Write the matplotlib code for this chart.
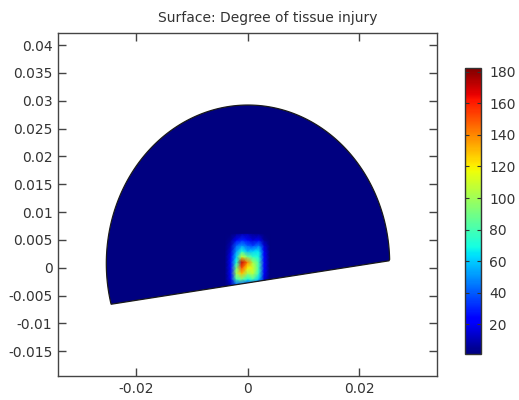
import numpy as np
import matplotlib
matplotlib.use("Agg")
import matplotlib.pyplot as plt
from matplotlib.patches import Polygon
from matplotlib.colors import Normalize
from matplotlib.cm import ScalarMappable

# ---------------- data ----------------
title = "Surface: Degree of tissue injury"
x_ticks = [-0.02, 0.0, 0.02]
x_ticklabels = ["-0.02", "0", "0.02"]
y_ticks = [-0.015, -0.01, -0.005, 0.0, 0.005, 0.01, 0.015, 0.02, 0.025, 0.03, 0.035, 0.04]
y_ticklabels = ["-0.015", "-0.01", "-0.005", "0", "0.005", "0.01", "0.015",
                "0.02", "0.025", "0.03", "0.035", "0.04"]
cbar_ticks = [20, 40, 60, 80, 100, 120, 140, 160, 180]
value_min = 1.0
value_max = 182.5

# domain geometry (elliptic arc closed by a straight chord), metres
dom_center = (0.00009, 0.00075)
dom_semi_x = 0.02542
dom_semi_y = 0.02847
chord_left = (-0.02447, -0.00656)
chord_right = (0.02537, 0.00124)

# injury field samples around the heated spot (mm grid, values)
spot_x_mm = [-4, -3, -2, -1, 0, 1, 2, 3, 4]
spot_y_mm = [-3, -2, -1, 0, 1, 2, 3, 4, 5, 6]
spot_values = [
    [0, 10, 40, 40, 30, 40, 30, 5, 0],
    [0, 20, 80, 90, 70, 80, 60, 15, 0],
    [0, 25, 100, 130, 100, 105, 75, 20, 0],
    [0, 25, 90, 150, 120, 110, 80, 25, 0],
    [0, 25, 70, 170, 140, 100, 80, 25, 0],
    [0, 20, 60, 110, 90, 75, 70, 25, 0],
    [0, 15, 50, 70, 55, 60, 65, 20, 0],
    [0, 10, 40, 50, 40, 35, 45, 15, 0],
    [0, 5, 20, 30, 25, 15, 20, 5, 0],
    [0, 0, 5, 10, 10, 5, 5, 0, 0],
]

# ---------------- figure ----------------
W, H = 519, 400
fig = plt.figure(figsize=(W / 100, H / 100), dpi=100)
ax = fig.add_axes([58 / W, (H - 376) / H, 379 / W, 343 / H])
ax.set_xlim(-0.034, 0.034)
ax.set_ylim(-0.01945, 0.04216)

cmap = plt.get_cmap("jet")
norm = Normalize(vmin=value_min, vmax=value_max)

# domain outline
cx, cy = dom_center
tR = np.arctan2((chord_right[1] - cy) / dom_semi_y, (chord_right[0] - cx) / dom_semi_x)
tL = np.arctan2((chord_left[1] - cy) / dom_semi_y, (chord_left[0] - cx) / dom_semi_x)
if tL < tR:
    tL += 2 * np.pi
t = np.linspace(tR, tL, 400)
arc = np.column_stack([cx + dom_semi_x * np.cos(t), cy + dom_semi_y * np.sin(t)])
poly_pts = np.vstack([[chord_right], arc[1:-1], [chord_left]])

bg = Polygon(poly_pts, closed=True, facecolor=cmap(0.0), edgecolor="none", zorder=1)
ax.add_patch(bg)

X, Y = np.meshgrid(np.array(spot_x_mm) * 1e-3, np.array(spot_y_mm) * 1e-3)
V = np.array(spot_values, dtype=float)
V = np.clip(V, value_min, None)
mesh = ax.pcolormesh(X, Y, V, shading="gouraud", cmap=cmap, norm=norm, zorder=2)
clip = Polygon(poly_pts, closed=True, transform=ax.transData)
mesh.set_clip_path(clip)

outline = Polygon(poly_pts, closed=True, fill=False, edgecolor="#1a1a1a", linewidth=0.9, zorder=3)
ax.add_patch(outline)

# axes styling
tc = "#333333"
for s in ax.spines.values():
    s.set_color("#444444")
    s.set_linewidth(1.0)
ax.set_xticks(x_ticks)
ax.set_xticklabels(x_ticklabels)
ax.set_yticks(y_ticks)
ax.set_yticklabels(y_ticklabels)
ax.tick_params(direction="in", length=6, width=1.0, color="#444444",
               top=True, right=True, labelsize=10, labelcolor=tc, pad=4)
fig.text(268 / W, 1 - 18 / H, title, ha="center", va="center", fontsize=10, color=tc)

# colorbar
cax = fig.add_axes([465 / W, (H - 354) / H, 16 / W, 286 / H])
sm = ScalarMappable(norm=norm, cmap=cmap)
cb = fig.colorbar(sm, cax=cax, ticks=cbar_ticks)
cb.outline.set_edgecolor("#333333")
cb.outline.set_linewidth(1.0)
cax.tick_params(direction="in", length=3, width=0.8, color="#333333", left=True, right=True,
                labelsize=10, labelcolor=tc, pad=6)

fig.savefig("out.png", dpi=100)
